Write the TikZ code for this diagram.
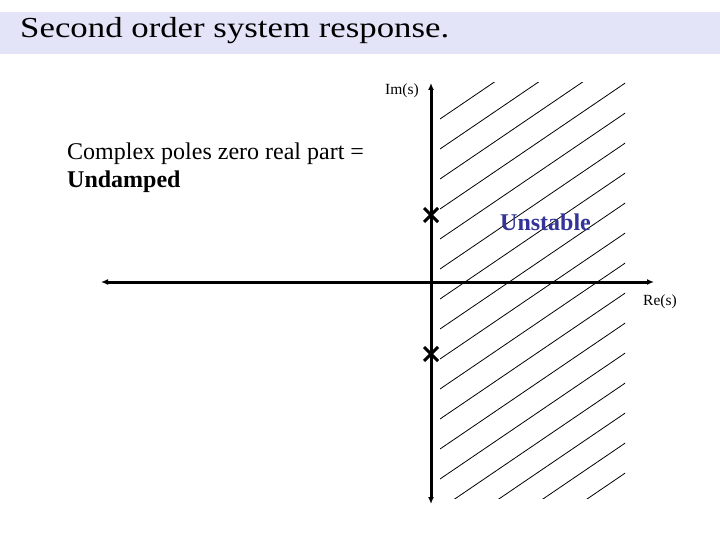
\documentclass[tikz,border=0pt]{standalone}
\usepackage{fontspec}
\setmainfont{Liberation Serif}
\usepackage{tikz}
\usetikzlibrary{positioning}
\usetikzlibrary{shapes.misc,arrows.meta}
\definecolor{bandblue}{RGB}{228,228,248}
\definecolor{unstblue}{RGB}{51,51,153}
\tikzset{
	axis/.style = {line width=3pt, {Latex[length=7pt,width=6pt]}-{Latex[length=7pt,width=6pt]}},
	hatch/.style = {line width=0.8pt},
	pole/.style = {cross out, draw, line width=3pt, minimum size=11pt, inner sep=0pt,
	 node contents={}},
	axlabel/.style = {font=\fontsize{15.5}{18}\selectfont, inner sep=0pt},
	txt/.style = {font=\fontsize{24}{28}\selectfont, inner sep=0pt, align=left},
}

\begin{document}
\begin{tikzpicture}[x=1pt, y=-1pt]
	\useasboundingbox (0,0) rectangle (720,540);
	\fill[bandblue] (0,12) rectangle (720,54);
	\node (Title) [anchor=base west, inner sep=0pt, font=\fontsize{29}{34}\selectfont] at (20,38) {\scalebox{1.2}[1]{Second order system response.}};
	\coordinate (ImTop) at (431,83);
	\coordinate (ImBot) at (431,504);
	\coordinate (ReLeft) at (101,282);
	\coordinate (ReRight) at (654,282);
	\begin{scope}
		\clip (440,83) rectangle (625,498);
		\foreach \k in {0,...,16}
			\draw[hatch] (440,119+30*\k) -- ++(300,-204);
	\end{scope}
	\draw[axis] (ImBot) -- (ImTop);
	\draw[axis] (ReLeft) -- (ReRight);
	\node (PoleUp) [pole, at={(431,215)}];
	\node (PoleDown) [pole, at={(431,354)}];
	\node (ImLabel) [axlabel, anchor=base east] at (419,95) {Im(s)};
	\node (ReLabel) [axlabel, anchor=base west] at (643,305) {Re(s)};
	\node (Unstable) [txt, anchor=base west, text=unstblue, font=\fontsize{24}{28}\selectfont\bfseries] at (500,230) {Unstable};
	\node (Undamped) [txt, anchor=north west] at (67,143) {Complex poles zero real part =\\\textbf{Undamped}};
\end{tikzpicture}
\end{document}
